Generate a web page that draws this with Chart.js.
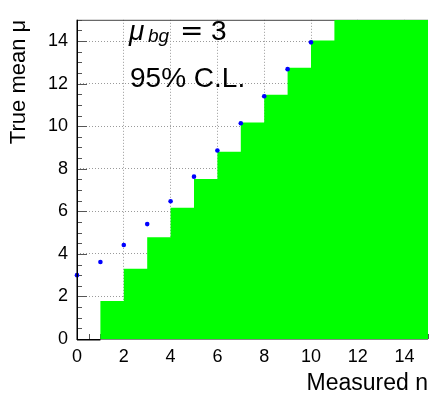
<!DOCTYPE html>
<html>
<head>
<meta charset="utf-8">
<script src="https://cdn.jsdelivr.net/npm/chart.js@4.4.1/dist/chart.umd.min.js"></script>
<style>
html,body{margin:0;padding:0;background:#fff;}
#wrap{width:432px;height:393px;}
</style>
</head>
<body>
<div id="wrap"><canvas id="c" width="432" height="393"></canvas></div>
<script>
// Measured n for the lower-limit steps (bin left edges, last value is the right end)
const stepN = [0, 1, 2, 3, 4, 5, 6, 7, 8, 9, 10, 11, 12, 13, 14, 15];
// Lower edge of the confidence belt (green region top) for each bin
const lowerLimit = [0, 1.79, 3.30, 4.78, 6.17, 7.52, 8.80, 10.17, 11.48, 12.75, 14.03, 15, 15, 15, 15, 15];
// Measured n for the blue points
const pointN = [0, 1, 2, 3, 4, 5, 6, 7, 8, 9, 10];
// Upper limit values (blue points)
const upperLimit = [3.00, 3.62, 4.42, 5.40, 6.47, 7.63, 8.86, 10.14, 11.41, 12.68, 13.94];
// Tick labels
const xTickValues = [0, 2, 4, 6, 8, 10, 12, 14];
const yTickValues = [0, 2, 4, 6, 8, 10, 12, 14];
const xTitle = 'Measured n';
const yTitle = 'True mean \u03bc';
const textBg = '3';
const textCL = '95% C.L.';

const stepData = stepN.map((n, i) => ({x: n, y: lowerLimit[i]}));
const pointData = pointN.map((n, i) => ({x: n, y: upperLimit[i]}));

const framePlugin = {
  id: 'frame',
  beforeDatasetsDraw(chart) {
    const {ctx, chartArea: a, scales} = chart;
    const xs = scales.x, ys = scales.y;
    ctx.save();
    ctx.strokeStyle = '#555';
    ctx.lineWidth = 1;
    ctx.beginPath();
    for (let v = 0; v <= 15.001; v += 0.5) {
      const py = Math.round(ys.getPixelForValue(v)) + 0.5;
      const len = (Math.abs(v % 2) < 1e-6) ? 10 : 5;
      ctx.moveTo(a.left, py);
      ctx.lineTo(a.left + len, py);
    }
    for (let v = 0; v <= 15.001; v += 0.5) {
      const px = Math.round(xs.getPixelForValue(v)) + 0.5;
      const len = (Math.abs(v % 2) < 1e-6) ? 10 : 5;
      ctx.moveTo(px, a.bottom);
      ctx.lineTo(px, a.bottom - len);
    }
    ctx.stroke();
    ctx.strokeStyle = '#444';
    ctx.beginPath();
    ctx.moveTo(a.left, a.top + 0.5);
    ctx.lineTo(a.right, a.top + 0.5);
    ctx.stroke();
    ctx.restore();
  },
  afterDatasetsDraw(chart) {
    const {ctx, chartArea: a} = chart;
    ctx.save();
    ctx.strokeStyle = '#888';
    ctx.lineWidth = 1;
    ctx.beginPath();
    ctx.moveTo(a.left, a.bottom + 0.5);
    ctx.lineTo(a.right, a.bottom + 0.5);
    ctx.stroke();
    ctx.strokeStyle = '#000';
    ctx.lineWidth = 1.5;
    ctx.beginPath();
    ctx.moveTo(a.left + 0.25, a.top);
    ctx.lineTo(a.left + 0.25, a.bottom + 1);
    ctx.moveTo(a.left, a.bottom + 0.75);
    ctx.lineTo(chart.scales.x.getPixelForValue(stepN[1]), a.bottom + 0.75);
    ctx.stroke();
    ctx.restore();
    ctx.save();
    ctx.fillStyle = '#000';
    ctx.textBaseline = 'alphabetic';
    ctx.textAlign = 'left';
    ctx.font = 'italic 28px "Liberation Sans", Arial, sans-serif';
    ctx.fillText('\u03bc', 129, 40);
    ctx.font = 'italic 19px "Liberation Sans", Arial, sans-serif';
    ctx.fillText('bg', 148, 42);
    ctx.font = '28px "DejaVu Sans", sans-serif';
    ctx.fillText('=', 180, 40);
    ctx.font = '28px "Liberation Sans", Arial, sans-serif';
    ctx.fillText(textBg, 211, 40);
    ctx.fillText(textCL, 130, 87);
    ctx.restore();
  }
};

new Chart(document.getElementById('c'), {
  type: 'scatter',
  data: {
    datasets: [
      {
        label: 'upper',
        data: pointData,
        pointRadius: 2.3,
        pointBackgroundColor: '#0000ff',
        pointBorderWidth: 0,
        showLine: false,
        clip: false
      },
      {
        label: 'belt',
        data: stepData,
        showLine: true,
        stepped: true,
        fill: 'origin',
        backgroundColor: '#00ff00',
        borderWidth: 0,
        borderColor: 'rgba(0,0,0,0)',
        pointRadius: 0
      }
    ]
  },
  options: {
    responsive: false,
    animation: false,
    devicePixelRatio: 1,
    layout: {padding: {left: 0, top: 5, right: 3, bottom: 0}},
    plugins: {legend: {display: false}, tooltip: {enabled: false}},
    scales: {
      x: {
        type: 'linear', min: 0, max: 15,
        afterFit(s) { s.height = 54; },
        afterBuildTicks(s) { s.ticks = xTickValues.map(v => ({value: v})); },
        ticks: {
          font: {family: '"Liberation Sans", Arial, sans-serif', size: 18},
          color: '#000', padding: 7, maxRotation: 0, autoSkip: false
        },
        grid: {
          drawTicks: false,
          color: (c) => c.tick && c.tick.value === 0 ? 'rgba(0,0,0,0)' : '#9a9a9a',
          lineWidth: 1
        },
        border: {display: false, dash: [1, 2]},
        title: {
          display: true, text: xTitle, align: 'end', color: '#000',
          font: {family: '"Liberation Sans", Arial, sans-serif', size: 23, lineHeight: 0.8},
          padding: {top: 0, bottom: 0}
        }
      },
      y: {
        type: 'linear', min: 0, max: 15,
        afterFit(s) { s.width = 77; },
        afterBuildTicks(s) { s.ticks = yTickValues.map(v => ({value: v})); },
        ticks: {
          font: {family: '"Liberation Sans", Arial, sans-serif', size: 18},
          color: '#000', padding: 9, autoSkip: false
        },
        grid: {
          drawTicks: false,
          color: (c) => c.tick && c.tick.value === 0 ? 'rgba(0,0,0,0)' : '#9a9a9a',
          lineWidth: 1
        },
        border: {display: false, dash: [1, 2]},
        title: {
          display: true, text: yTitle, align: 'end', color: '#000',
          font: {family: '"Liberation Sans", Arial, sans-serif', size: 22, lineHeight: 1.2},
          padding: {top: 6, bottom: 0}
        }
      }
    }
  },
  plugins: [framePlugin]
});
</script>
</body>
</html>
